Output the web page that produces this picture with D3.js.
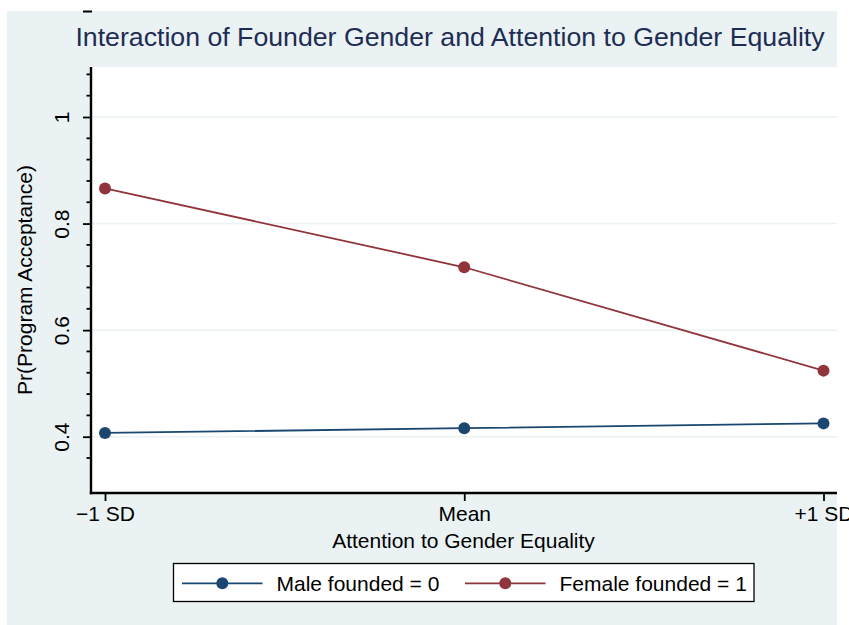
<!DOCTYPE html>
<html><head><meta charset="utf-8">
<script src="https://cdn.jsdelivr.net/npm/d3@7"></script>
<style>body{margin:0;background:#fff;} text{font-family:"Liberation Sans",Arial,sans-serif;}</style>
</head><body>
<svg id="c" width="849" height="625"></svg>
<script>
const categories = ["\u22121 SD", "Mean", "+1 SD"];
const maleValues = [0.407, 0.416, 0.425];
const femaleValues = [0.866, 0.718, 0.524];
const seriesNames = ["Male founded = 0", "Female founded = 1"];
const yMajorTicks = [0.4, 0.6, 0.8, 1];
const yMinorTicks = [0.36, 0.44, 0.48, 0.52, 0.56, 0.64, 0.68, 0.72, 0.76, 0.84, 0.88, 0.92, 0.96, 1.04, 1.08];
const titleText = "Interaction of Founder Gender and Attention to Gender Equality";
const xTitle = "Attention to Gender Equality";
const yTitle = "Pr(Program Acceptance)";

const colors = ["#1a476f", "#90353b"];
const FONT = '"Liberation Sans",Arial,sans-serif';
const FS = 21;
const svg = d3.select("#c");
const bg = "#eaf2f3";
svg.append("rect").attr("x",7).attr("y",11).attr("width",830).attr("height",614).attr("fill",bg);
svg.append("line").attr("x1",83).attr("x2",92).attr("y1",11.5).attr("y2",11.5).attr("stroke","#000").attr("stroke-width",2);

const L=91, R=837, T=67, B=493;
svg.append("rect").attr("x",L).attr("y",T).attr("width",R-L).attr("height",B-T).attr("fill","#fff");

const x = d3.scalePoint().domain(categories).range([105, 823.5]);
const y = d3.scaleLinear().domain([0.4, 1]).range([436.7, 117]);

// grid
svg.append("g").selectAll("line").data(yMajorTicks).join("line")
  .attr("x1",L).attr("x2",R).attr("y1",d=>y(d)).attr("y2",d=>y(d))
  .attr("stroke",bg).attr("stroke-width",1.5);

// series
const series = [maleValues, femaleValues];
const line = d3.line().x((d,i)=>x(categories[i])).y(d=>y(d));
series.forEach((vals,si)=>{
  svg.append("path").datum(vals).attr("d",line).attr("fill","none").attr("stroke",colors[si]).attr("stroke-width",1.8);
  svg.append("g").selectAll("circle").data(vals).join("circle")
    .attr("cx",(d,i)=>x(categories[i])).attr("cy",d=>y(d)).attr("r",6).attr("fill",colors[si]);
});

// y axis
const yAxis = d3.axisLeft(y).tickValues(yMajorTicks).tickFormat(d3.format("~g")).tickSize(8).tickPadding(0).tickSizeOuter(0);
const gy = svg.append("g").attr("transform",`translate(${L},0)`).call(yAxis);
gy.select(".domain").remove();
gy.selectAll(".tick line").attr("stroke","#000").attr("stroke-width",1.8);
gy.selectAll(".tick text").attr("transform","rotate(-90)").attr("x",0).attr("y",-22.5).attr("dy",0)
  .attr("text-anchor","middle").attr("font-size",FS).attr("fill","#000").style("font-family",FONT);
svg.append("g").selectAll("line").data(yMinorTicks).join("line")
  .attr("x1",L-4.5).attr("x2",L).attr("y1",d=>y(d)).attr("y2",d=>y(d)).attr("stroke","#000").attr("stroke-width",1.8);
svg.append("line").attr("x1",L).attr("x2",L).attr("y1",T).attr("y2",B+1.2).attr("stroke","#000").attr("stroke-width",2.4);

// x axis
const xAxis = d3.axisBottom(x).tickSize(8).tickPadding(4).tickSizeOuter(0);
const gx = svg.append("g").attr("transform",`translate(0,${B})`).call(xAxis);
gx.select(".domain").remove();
gx.selectAll(".tick line").attr("stroke","#000").attr("stroke-width",1.8);
gx.selectAll(".tick text").attr("font-size",FS).attr("fill","#000").attr("y",28).attr("dy",0).style("font-family",FONT);
svg.append("line").attr("x1",L-1.2).attr("x2",R).attr("y1",B).attr("y2",B).attr("stroke","#000").attr("stroke-width",2.4);

// titles
svg.append("text").attr("x",450).attr("y",46).attr("text-anchor","middle").attr("font-size",26.7).attr("fill","#1e2d53").text(titleText);
svg.append("text").attr("x",463.5).attr("y",548).attr("text-anchor","middle").attr("font-size",FS).attr("fill","#000").text(xTitle);
svg.append("text").attr("transform","translate(32,280) rotate(-90)").attr("text-anchor","middle").attr("font-size",FS).attr("fill","#000").text(yTitle);

// legend
svg.append("rect").attr("x",173.5).attr("y",563.5).attr("width",580.5).attr("height",38).attr("fill","#fff").attr("stroke","#000").attr("stroke-width",1.3);
const legX = [182, 465];
seriesNames.forEach((n,i)=>{
  const g = svg.append("g");
  g.append("line").attr("x1",legX[i]).attr("x2",legX[i]+80.5).attr("y1",583.3).attr("y2",583.3).attr("stroke",colors[i]).attr("stroke-width",1.8);
  g.append("circle").attr("cx",legX[i]+40.3).attr("cy",583.3).attr("r",6).attr("fill",colors[i]);
  g.append("text").attr("x",legX[i]+94.5).attr("y",590.5).attr("font-size",FS).attr("fill","#000").text(n);
});
</script>
</body></html>
